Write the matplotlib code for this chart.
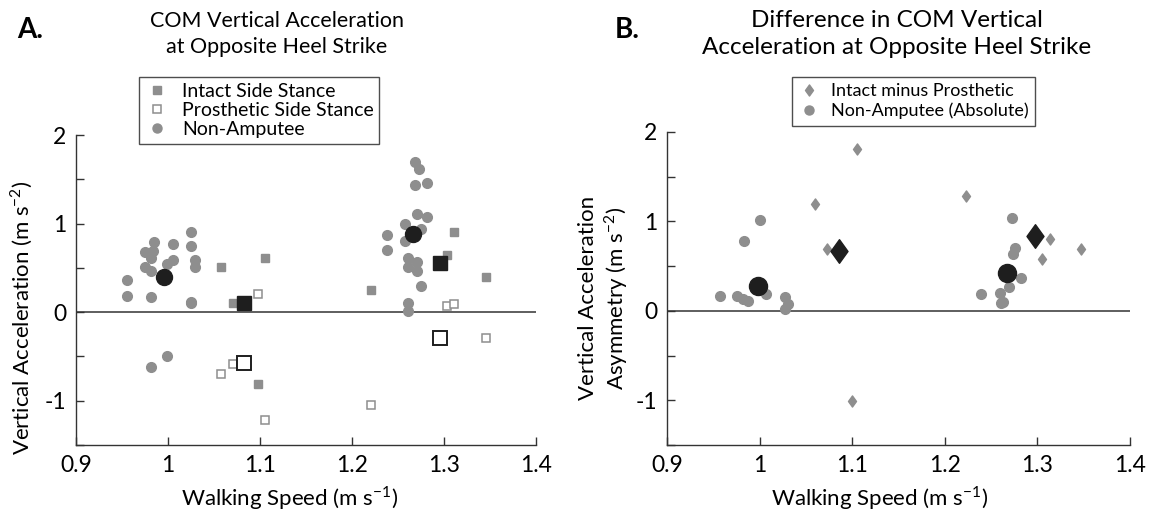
import matplotlib
matplotlib.use('Agg')
import matplotlib.pyplot as plt
import numpy as np
from matplotlib.path import Path
from matplotlib.lines import Line2D

plt.rcParams['font.family'] = ['Lato', 'DejaVu Sans']
plt.rcParams['mathtext.fontset'] = 'custom'
plt.rcParams['mathtext.rm'] = 'Lato'
plt.rcParams['axes.unicode_minus'] = False

# --- panel A data ---
na_speed = [1.025, 0.985, 1.005, 1.025, 0.975, 0.984, 0.982, 1.005, 0.999, 1.029,
            1.029, 0.975, 0.981, 0.955, 0.955, 0.982, 1.025, 1.025, 0.999, 0.982,
            1.2685, 1.273, 1.2685, 1.281, 1.271, 1.281, 1.258, 1.275, 1.238, 1.258,
            1.238, 1.261, 1.271, 1.261, 1.271, 1.275, 1.261, 1.261]
na_acc = [0.91, 0.79, 0.77, 0.75, 0.68, 0.685, 0.61, 0.59, 0.54, 0.59,
          0.515, 0.51, 0.47, 0.36, 0.185, 0.175, 0.12, 0.10, -0.50, -0.62,
          1.70, 1.62, 1.43, 1.455, 1.11, 1.076, 0.99, 0.94, 0.875, 0.80,
          0.70, 0.61, 0.57, 0.515, 0.46, 0.295, 0.105, 0.015]
amp_speed = [1.058, 1.071, 1.098, 1.105, 1.221, 1.303, 1.311, 1.346]
intact_acc = [0.515, 0.105, -0.81, 0.61, 0.25, 0.645, 0.91, 0.40]
prosth_acc = [-0.70, -0.59, 0.21, -1.22, -1.05, 0.07, 0.09, -0.29]

na_mean_speed = [0.996, 1.266]
na_mean_acc = [0.40, 0.886]
amp_mean_speed = [1.083, 1.296]
intact_mean_acc = [0.105, 0.553]
prosth_mean_acc = [-0.575, -0.29]

# --- panel B data ---
na_abs_speed = [1.000, 0.983, 0.957, 0.976, 0.982, 0.987, 1.0066, 1.027, 1.031, 1.027,
                1.2726, 1.276, 1.2737, 1.2827, 1.2693, 1.260, 1.2395, 1.2629, 1.261]
na_abs_diff = [1.02, 0.78, 0.168, 0.168, 0.128, 0.112, 0.187, 0.157, 0.072, 0.016,
               1.04, 0.70, 0.634, 0.37, 0.27, 0.195, 0.183, 0.094, 0.09]
diff_speed = [1.060, 1.0728, 1.1002, 1.1056, 1.2233, 1.3054, 1.3133, 1.3475]
diff_acc = [1.19, 0.687, -1.007, 1.805, 1.283, 0.575, 0.802, 0.687]

na_abs_mean_speed = [0.998, 1.2676]
na_abs_mean_diff = [0.278, 0.418]
diff_mean_speed = [1.0857, 1.297]
diff_mean_acc = [0.671, 0.839]

gray = '#8e8e8e'
dark = '#1e1e1e'
diamond = Path([(0, 1), (0.72, 0), (0, -1), (-0.72, 0), (0, 1)],
               [Path.MOVETO, Path.LINETO, Path.LINETO, Path.LINETO, Path.CLOSEPOLY])

fig = plt.figure(figsize=(11.55, 5.2), dpi=100)
axA = fig.add_axes([76 / 1155, 75 / 520, 460 / 1155, 310 / 520])
axB = fig.add_axes([667 / 1155, 75 / 520, 463 / 1155, 313 / 520])


def style(ax):
    ax.set_xlim(0.9, 1.4)
    ax.set_ylim(-1.5, 2)
    ax.spines['top'].set_visible(False)
    ax.spines['right'].set_visible(False)
    for s in ['left', 'bottom']:
        ax.spines[s].set_color('#333333')
        ax.spines[s].set_linewidth(1.0)
    ax.set_xticks([0.9, 1.0, 1.1, 1.2, 1.3, 1.4])
    ax.set_xticklabels(['0.9', '1', '1.1', '1.2', '1.3', '1.4'])
    ax.set_yticks([-1.5, -1, -0.5, 0, 0.5, 1, 1.5, 2])
    ax.set_yticklabels(['', '-1', '', '0', '', '1', '', '2'])
    ax.tick_params(direction='in', length=6, width=1, color='#333333',
                   labelsize=16.5, pad=7)
    ax.axhline(0, color='#333333', lw=1.1, zorder=1)


style(axA)
style(axB)

# panel A
axA.plot(amp_speed, intact_acc, 's', ms=5.5, color=gray, mec=gray, zorder=3)
axA.plot(amp_speed, prosth_acc, 's', ms=5.5, mfc='white', mec=gray, mew=1.1, zorder=3)
axA.plot(na_speed, na_acc, 'o', ms=7, color=gray, mec=gray, zorder=3)
axA.plot(amp_mean_speed, intact_mean_acc, 's', ms=10.5, color=dark, zorder=4)
axA.plot(amp_mean_speed, prosth_mean_acc, 's', ms=10.5, mfc='white', mec=dark, mew=1.4, zorder=4)
axA.plot(na_mean_speed, na_mean_acc, 'o', ms=11.5, color=dark, zorder=4)

# panel B
axB.plot(diff_speed, diff_acc, marker=diamond, ls='none', ms=8, color=gray, zorder=3)
axB.plot(na_abs_speed, na_abs_diff, 'o', ms=7, color=gray, mec=gray, zorder=3)
axB.plot(diff_mean_speed, diff_mean_acc, marker=diamond, ls='none', ms=17, color=dark, zorder=4)
axB.plot(na_abs_mean_speed, na_abs_mean_diff, 'o', ms=13, color=dark, zorder=4)

# legends
hA = [Line2D([], [], ls='none', marker='s', ms=5.5, color=gray),
      Line2D([], [], ls='none', marker='s', ms=5.5, mfc='white', mec=gray, mew=1.1),
      Line2D([], [], ls='none', marker='o', ms=6.5, color=gray)]
legA = fig.legend(hA, ['Intact Side Stance', 'Prosthetic Side Stance', 'Non-Amputee'],
                  loc='upper left', bbox_to_anchor=(139 / 1155, 1 - 77 / 520),
                  fontsize=14, frameon=True, fancybox=False, edgecolor='#222222',
                  borderpad=0.3, labelspacing=0.1, handletextpad=0.6,
                  handlelength=1.3, borderaxespad=0)
legA.get_frame().set_linewidth(1.0)

hB = [Line2D([], [], ls='none', marker=diamond, ms=8, color=gray),
      Line2D([], [], ls='none', marker='o', ms=6.5, color=gray)]
legB = fig.legend(hB, ['Intact minus Prosthetic', 'Non-Amputee (Absolute)'],
                  loc='upper left', bbox_to_anchor=(792 / 1155, 1 - 77 / 520),
                  fontsize=13, frameon=True, fancybox=False, edgecolor='#222222',
                  borderpad=0.35, labelspacing=0.2, handletextpad=0.6,
                  handlelength=1.2, borderaxespad=0)
legB.get_frame().set_linewidth(1.0)

# titles and labels
fig.text(277 / 1155, 1 - 34 / 520, 'COM Vertical Acceleration\nat Opposite Heel Strike',
         ha='center', va='center', fontsize=15.5, linespacing=1.35)
fig.text(897 / 1155, 1 - 34 / 520, 'Difference in COM Vertical\nAcceleration at Opposite Heel Strike',
         ha='center', va='center', fontsize=17.5, linespacing=1.3)
fig.text(30 / 1155, 1 - 30 / 520, 'A.', ha='center', va='center', fontsize=20, fontweight='bold')
fig.text(627 / 1155, 1 - 30 / 520, 'B.', ha='center', va='center', fontsize=20, fontweight='bold')

fig.text(290 / 1155, 1 - 498 / 520, r'Walking Speed (m s$^\mathregular{-1}$)',
         ha='center', va='center', fontsize=16)
fig.text(880 / 1155, 1 - 498 / 520, r'Walking Speed (m s$^\mathregular{-1}$)',
         ha='center', va='center', fontsize=16)
fig.text(22 / 1155, 1 - 318 / 520, r'Vertical Acceleration (m s$^\mathregular{-2}$)',
         ha='center', va='center', rotation=90, fontsize=16)
fig.text(604 / 1155, 1 - 298 / 520,
         'Vertical Acceleration\n' + r'Asymmetry (m s$^\mathregular{-2}$)',
         ha='center', va='center', rotation=90, fontsize=16, linespacing=1.2)

fig.savefig('out.png', dpi=100)
